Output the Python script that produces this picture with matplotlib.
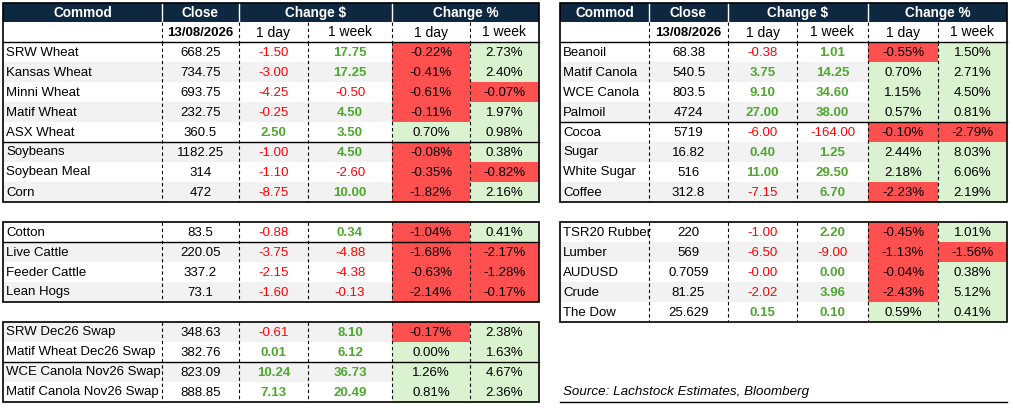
import matplotlib
matplotlib.use("Agg")
import matplotlib.pyplot as plt
from matplotlib.patches import Rectangle

# ---------------- data ----------------
date_label = "13/08/2026"
header_top = ["Commod", "Close", "Change $", "Change %"]
sub_labels = ["1 day", "1 week", "1 day", "1 week"]

grains = ["SRW Wheat", "Kansas Wheat", "Minni Wheat", "Matif Wheat", "ASX Wheat",
          "Soybeans", "Soybean Meal", "Corn"]
grains_close = [668.25, 734.75, 693.75, 232.75, 360.5, 1182.25, 314, 472]
grains_chg_day = [-1.50, -3.00, -4.25, -0.25, 2.50, -1.00, -1.10, -8.75]
grains_chg_week = [17.75, 17.25, -0.50, 4.50, 3.50, 4.50, -2.60, 10.00]
grains_pct_day = [-0.22, -0.41, -0.61, -0.11, 0.70, -0.08, -0.35, -1.82]
grains_pct_week = [2.73, 2.40, -0.07, 1.97, 0.98, 0.38, -0.82, 2.16]

livestock = ["Cotton", "Live Cattle", "Feeder Cattle", "Lean Hogs"]
livestock_close = [83.5, 220.05, 337.2, 73.1]
livestock_chg_day = [-0.88, -3.75, -2.15, -1.60]
livestock_chg_week = [0.34, -4.88, -4.38, -0.13]
livestock_pct_day = [-1.04, -1.68, -0.63, -2.14]
livestock_pct_week = [0.41, -2.17, -1.28, -0.17]

swaps = ["SRW Dec26 Swap", "Matif Wheat Dec26 Swap", "WCE Canola Nov26 Swap",
         "Matif Canola Nov26 Swap"]
swaps_close = [348.63, 382.76, 823.09, 888.85]
swaps_chg_day = [-0.61, 0.01, 10.24, 7.13]
swaps_chg_week = [8.10, 6.12, 36.73, 20.49]
swaps_pct_day = [-0.17, 0.00, 1.26, 0.81]
swaps_pct_week = [2.38, 1.63, 4.67, 2.36]

softs = ["Beanoil", "Matif Canola", "WCE Canola", "Palmoil", "Cocoa", "Sugar",
         "White Sugar", "Coffee"]
softs_close = [68.38, 540.5, 803.5, 4724, 5719, 16.82, 516, 312.8]
softs_chg_day = [-0.38, 3.75, 9.10, 27.00, -6.00, 0.40, 11.00, -7.15]
softs_chg_week = [1.01, 14.25, 34.60, 38.00, -164.00, 1.25, 29.50, 6.70]
softs_pct_day = [-0.55, 0.70, 1.15, 0.57, -0.10, 2.44, 2.18, -2.23]
softs_pct_week = [1.50, 2.71, 4.50, 0.81, -2.79, 8.03, 6.06, 2.19]

macro = ["TSR20 Rubber", "Lumber", "AUDUSD", "Crude", "The Dow"]
macro_close = [220, 569, 0.7059, 81.25, 25.629]
macro_chg_day = [-1.00, -6.50, -0.001, -2.02, 0.15]
macro_chg_week = [2.20, -9.00, 0.00, 3.96, 0.10]
macro_pct_day = [-0.45, -1.13, -0.04, -2.43, 0.59]
macro_pct_week = [1.01, -1.56, 0.38, 5.12, 0.41]

source_text = "Source: Lachstock Estimates, Bloomberg"

# ---------------- style ----------------
NAVY = "#0E2841"
RED_FILL = "#FF5050"
GREEN_FILL = "#DAF2D0"
GRAY = "#F2F2F2"
RED_TXT = "#FF0000"
GREEN_TXT = "#4EA72E"
FONT = ["Liberation Sans", "DejaVu Sans"]
FS = 9.5
ROW_H = 20

W, H = 1013, 408
fig = plt.figure(figsize=(W / 100, H / 100), dpi=100)
ax = fig.add_axes([0, 0, 1, 1])
ax.set_xlim(0, W)
ax.set_ylim(H, 0)
ax.axis("off")

cols_left = [3, 162, 239, 308, 392, 470, 539]
cols_right = [560, 649, 728, 797, 868, 938, 1007]


def txt(x, y, s, ha="center", **kw):
    kw.setdefault("fontsize", FS)
    kw.setdefault("color", "black")
    ax.text(x, y, s, ha=ha, va="center", family=FONT, zorder=5, **kw)


def dashed_v(x, y0, y1):
    ax.plot([x, x], [y0, y1], color="black", lw=0.8, ls=(0, (3, 2.5)), zorder=3)


def draw_table(cols, top, names, close, cd, cw, pd_, pw, header, shade_start, seps):
    x0, x1 = cols[0], cols[-1]
    y = top
    if header:
        ax.add_patch(Rectangle((x0, y), x1 - x0, 19, facecolor=NAVY, edgecolor="none", zorder=1))
        spans = [(cols[0], cols[1]), (cols[1], cols[2]), (cols[2], cols[4]), (cols[4], cols[6])]
        for (a, b), lab in zip(spans, header_top):
            txt((a + b) / 2, y + 10, lab, color="white", fontweight="bold", fontsize=9.8)
        for cx in (cols[1], cols[2], cols[4]):
            ax.plot([cx, cx], [y, y + 19], color="white", lw=1.0, zorder=3)
        y += 19
        # sub header
        txt((cols[1] + cols[2]) / 2, y + 10.5, date_label, fontweight="bold")
        for k, lab in enumerate(sub_labels):
            txt((cols[2 + k] + cols[3 + k]) / 2, y + 10.5, lab, fontsize=10)
        for cx in cols[1:-1]:
            dashed_v(cx, y, y + 20)
        y += 20
        ax.plot([x0, x1], [y, y], color="black", lw=1.0, zorder=4)
    body_top = y
    for i, name in enumerate(names):
        ry = body_top + ROW_H * i
        cy = ry + ROW_H / 2 + 0.5
        if i % 2 == shade_start:
            ax.add_patch(Rectangle((x0, ry), cols[4] - x0, ROW_H, facecolor=GRAY,
                                   edgecolor="none", zorder=1))
        for k, v in enumerate((pd_[i], pw[i])):
            fc = RED_FILL if v < 0 else GREEN_FILL
            ax.add_patch(Rectangle((cols[4 + k], ry), cols[5 + k] - cols[4 + k], ROW_H,
                                   facecolor=fc, edgecolor="none", zorder=1))
            txt((cols[4 + k] + cols[5 + k]) / 2, cy, f"{v:.2f}%")
        txt(x0 + 3, cy, name, ha="left")
        txt((cols[1] + cols[2]) / 2, cy, f"{close[i]:g}")
        for k, v in enumerate((cd[i], cw[i])):
            if v < 0:
                txt((cols[2 + k] + cols[3 + k]) / 2, cy, f"{v:.2f}", color=RED_TXT)
            else:
                txt((cols[2 + k] + cols[3 + k]) / 2, cy, f"{v:.2f}", color=GREEN_TXT,
                    fontweight="bold")
    bottom = body_top + ROW_H * len(names)
    for cx in cols[1:-1]:
        dashed_v(cx, body_top, bottom)
    for s in seps:
        sy = body_top + ROW_H * s
        ax.plot([x0, x1], [sy, sy], color="black", lw=1.0, zorder=4)
    ax.add_patch(Rectangle((x0, top), x1 - x0, bottom - top, facecolor="none",
                           edgecolor="black", lw=1.2, zorder=4))


draw_table(cols_left, 3, grains, grains_close, grains_chg_day, grains_chg_week,
           grains_pct_day, grains_pct_week, True, 1, [5])
draw_table(cols_left, 222, livestock, livestock_close, livestock_chg_day, livestock_chg_week,
           livestock_pct_day, livestock_pct_week, False, 1, [1])
draw_table(cols_left, 322, swaps, swaps_close, swaps_chg_day, swaps_chg_week,
           swaps_pct_day, swaps_pct_week, False, 0, [2])
draw_table(cols_right, 3, softs, softs_close, softs_chg_day, softs_chg_week,
           softs_pct_day, softs_pct_week, True, 1, [4])
draw_table(cols_right, 222, macro, macro_close, macro_chg_day, macro_chg_week,
           macro_pct_day, macro_pct_week, False, 1, [])

txt(563, 392.5, source_text, ha="left", style="italic", fontsize=9.6)
ax.plot([560, 1007], [402, 402], color="black", lw=1.0, zorder=4)

fig.savefig("out.png", dpi=100, facecolor="white")
